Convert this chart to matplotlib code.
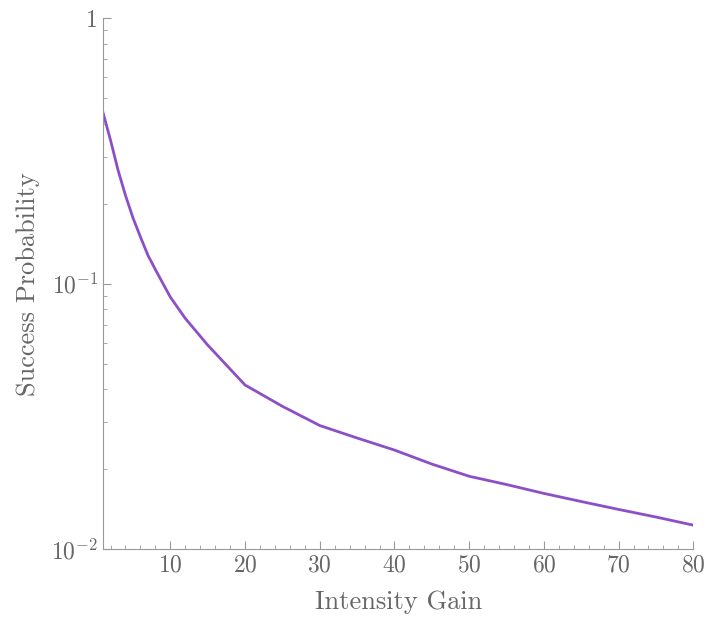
import matplotlib
matplotlib.use("Agg")
import matplotlib.pyplot as plt
from matplotlib.ticker import FixedLocator, FixedFormatter, LogLocator, NullFormatter

plt.rcParams["font.family"] = "serif"
plt.rcParams["font.serif"] = ["cmr10", "DejaVu Serif"]
plt.rcParams["mathtext.fontset"] = "cm"
plt.rcParams["axes.formatter.use_mathtext"] = True

GRAY = "#666666"
LINE = "#8d4fc6"

# values
gain = [1, 2, 3, 4, 5, 6, 7, 8, 10, 12, 15, 20, 25, 30, 35, 40, 45, 50, 55, 60, 65, 70, 75, 80]
prob = [0.44, 0.347, 0.268, 0.215, 0.177, 0.15, 0.128, 0.113, 0.089, 0.074, 0.0587,
        0.0415, 0.0345, 0.0292, 0.0262, 0.0236, 0.0209, 0.0188, 0.0175, 0.0162,
        0.0151, 0.0141, 0.0132, 0.0123]

fig = plt.figure(figsize=(7.06, 6.41), dpi=100)
ax = fig.add_axes([0.146, 0.1435, 0.836, 0.828])
ax.plot(gain, prob, color=LINE, lw=2)
ax.set_yscale("log")
ax.set_xlim(1, 80)
ax.set_ylim(0.01, 1)

ax.xaxis.set_major_locator(FixedLocator([10, 20, 30, 40, 50, 60, 70, 80]))
ax.xaxis.set_minor_locator(FixedLocator(list(range(2, 81, 2))))
ax.yaxis.set_major_locator(FixedLocator([0.01, 0.1, 1]))
ax.yaxis.set_major_formatter(FixedFormatter([r"$10^{-2}$", r"$10^{-1}$", "1"]))
ax.yaxis.set_minor_locator(LogLocator(base=10, subs=range(2, 10)))
ax.yaxis.set_minor_formatter(NullFormatter())

for s in ("top", "right"):
    ax.spines[s].set_visible(False)
for s in ("left", "bottom"):
    ax.spines[s].set_color("#999999")
ax.tick_params(which="both", direction="in", colors="#999999", labelcolor=GRAY, labelsize=17)
ax.tick_params(which="major", length=6)
ax.tick_params(which="minor", length=3)

ax.set_xlabel("Intensity Gain", fontsize=19, color=GRAY, labelpad=10)
ax.set_ylabel("Success Probability", fontsize=19, color=GRAY, labelpad=8)

fig.savefig("out.png")
